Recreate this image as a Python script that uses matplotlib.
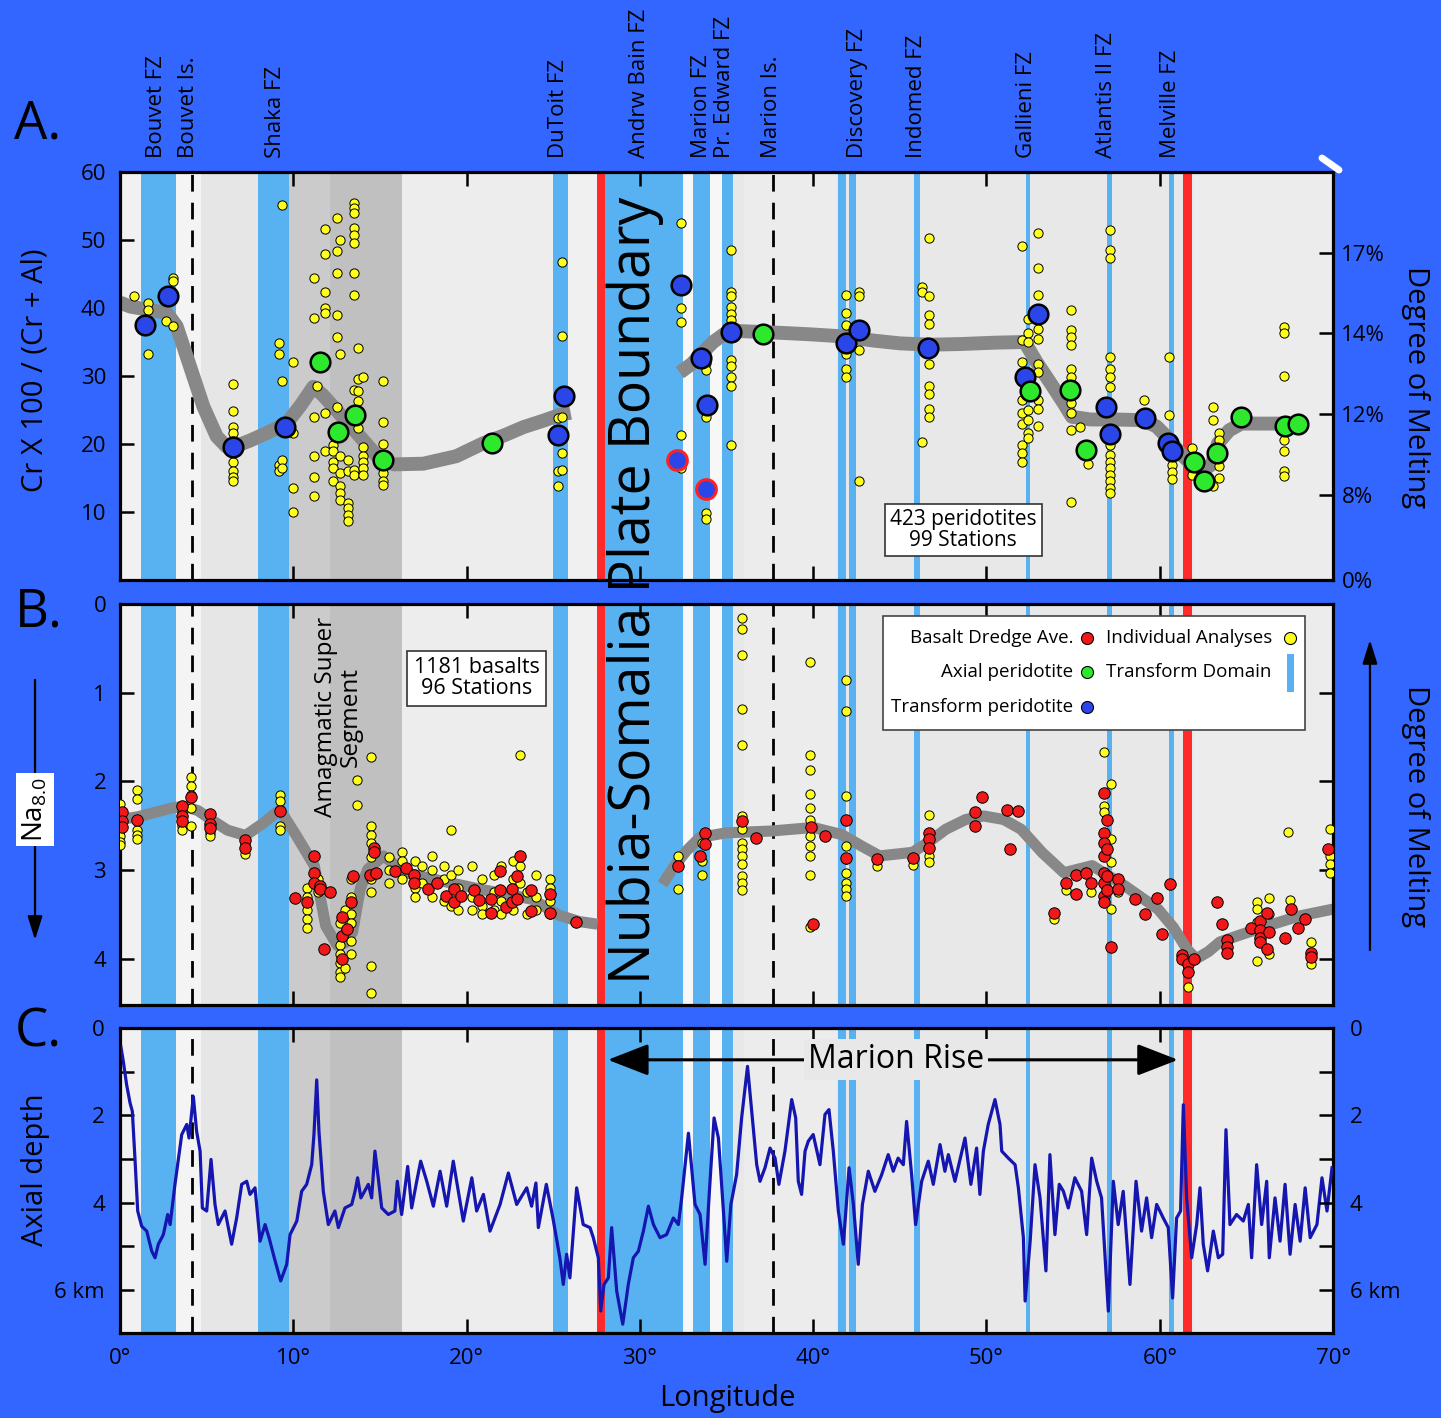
import numpy as np
import matplotlib
matplotlib.use("Agg")
import matplotlib.pyplot as plt
from matplotlib.lines import Line2D
from matplotlib.patches import Rectangle

plt.rcParams['font.family'] = ['Open Sans', 'DejaVu Sans']
plt.rcParams['mathtext.fontset'] = 'custom'
plt.rcParams['mathtext.rm'] = 'Open Sans'

# ---------------- data ----------------
fz_names = ['Bouvet FZ', 'Bouvet Is.', 'Shaka FZ', 'DuToit FZ', 'Andrw Bain FZ', 'Marion FZ',
            'Pr. Edward FZ', 'Marion Is.', 'Discovery FZ', 'Indomed FZ', 'Gallieni FZ',
            'Atlantis II FZ', 'Melville FZ']
fz_lon = [2.08, 3.93, 8.98, 25.33, 30.0, 33.53, 34.89, 37.62, 42.57, 45.96, 52.33, 56.95, 60.59]

transform_zones = [(1.21, 3.23), (7.98, 9.75), (25.0, 25.87), (28.0, 32.5), (33.05, 34.05),
                   (34.72, 35.39), (41.45, 41.87), (42.08, 42.45), (45.83, 46.16),
                   (52.28, 52.51), (56.93, 57.22), (60.53, 60.82)]
plate_boundaries = [(27.5, 27.99), (61.32, 61.84)]
islands = [4.13, 37.66]
amagmatic = [(9.75, 12.1), (12.1, 16.25)]

# Panel A: Cr# trend (two segments)
a_trend1_lon = [0.0, 0.6, 1.5, 2.7, 3.27, 4.04, 4.81, 5.58, 6.15, 6.6, 7.5, 8.46, 9.6, 10.4, 11.15,
                11.7, 12.3, 13.5, 14.84, 15.8, 17.5, 19.4, 20.96, 22.2, 23.3, 24.4, 25.4, 26.0]
a_trend1_val = [40.8, 40.2, 39.8, 39.3, 37.3, 31.4, 25.5, 21.1, 19.6, 19.6, 20.5, 21.6, 23.0, 25.6, 28.4,
                27.2, 25.5, 22.1, 18.2, 17.0, 17.1, 18.2, 20.1, 21.3, 22.5, 23.4, 24.3, 24.6]
a_trend2_lon = [32.3, 33.0, 33.6, 34.23, 34.88, 35.8, 36.75, 38.5, 40.0, 41.86, 43.5, 45.0, 46.76, 48.5,
                50.5, 52.2, 52.9, 53.84, 54.5, 54.93, 56.0, 57.5, 59.0, 59.8, 60.5, 61.2, 61.9, 62.55,
                63.0, 63.36, 64.0, 64.7, 66.0, 68.0]
a_trend2_val = [30.5, 31.8, 33.4, 35.0, 36.2, 36.6, 36.5, 36.3, 36.1, 35.8, 35.2, 34.8, 34.6, 34.7,
                34.9, 35.0, 32.0, 28.4, 25.8, 24.0, 23.6, 23.6, 23.5, 22.6, 20.8, 18.6, 16.8, 16.2,
                17.0, 20.1, 22.0, 23.0, 23.0, 23.0]

a_individual = [
    (0.83, [41.8]), (1.63, [40.7, 39.7, 33.3]), (2.63, [38.1]), (3.04, [44.4, 43.9, 37.4]),
    (6.54, [28.8, 24.9, 22.5, 21.6, 20.5, 19.0, 17.4, 16.0, 15.2, 14.5]),
    (9.2, [34.8, 33.2, 16.9, 16.0]), (9.37, [55.1, 29.2, 17.6, 16.5]), (9.97, [32.1, 21.6, 13.5, 10.0]),
    (11.19, [44.4, 38.6, 24.0, 18.3, 15.1, 12.4]), (11.39, [28.6]),
    (11.83, [51.6, 47.9, 42.4, 40.0, 39.2, 24.6, 19.0]), (12.31, [19.9, 18.9, 17.4, 16.5, 14.5]),
    (12.5, [53.3, 48.4, 45.1, 39.0, 35.8, 25.5]), (12.7, [50.0, 33.3, 18.2, 15.7, 13.8, 12.8, 11.8]),
    (13.17, [17.6, 16.0, 11.3, 10.6, 9.6, 8.6]),
    (13.5, [55.5, 54.7, 53.9, 51.7, 50.7, 49.5, 45.1, 41.9, 28.0, 16.2, 15.5]),
    (13.75, [34.1, 29.5, 27.8, 26.3, 22.4]), (14.04, [29.9, 19.5, 18.3, 17.4, 16.5, 15.5]),
    (15.2, [29.2, 23.3, 20.0, 16.7, 15.7, 14.6, 13.9]), (25.29, [23.8, 16.0, 13.8]),
    (25.48, [46.8, 35.9, 24.0, 18.6, 16.2]),
    (32.38, [52.5, 40.0, 37.9, 21.3, 16.5]), (33.83, [31.9, 30.9, 24.0, 9.9, 9.0]),
    (35.27, [48.6, 42.4, 41.7, 40.2, 39.1, 38.2, 32.3, 31.4, 29.9, 28.5, 19.9]),
    (41.91, [41.9, 39.2, 37.5, 34.3, 33.3, 31.1, 29.9]), (42.62, [42.4, 41.7, 33.8, 14.5]),
    (46.27, [43.1, 42.4, 20.3]), (46.68, [50.3, 41.8, 39.0, 37.7, 31.8, 28.5, 27.4, 25.2, 24.0]),
    (52.07, [49.1, 35.3, 32.1, 26.5, 24.5, 23.0, 19.9, 18.6, 17.4]),
    (52.4, [38.4, 36.3, 35.0, 25.0, 23.5, 21.6, 20.9]),
    (52.97, [51.0, 45.9, 41.9, 36.9, 35.4, 31.8, 30.6, 26.5, 25.2, 22.7]),
    (54.85, [39.7, 36.8, 35.8, 34.6, 31.1, 29.9, 27.2, 26.0, 24.5, 22.0, 11.5]),
    (55.42, [22.5]), (55.83, [17.0]),
    (57.11, [51.4, 48.6, 47.3, 32.8, 31.1, 29.9, 28.4, 19.9, 18.4, 17.4, 16.5, 15.5, 14.5, 13.5, 12.8]),
    (59.09, [26.5]), (60.51, [32.8, 24.3]), (60.73, [16.9, 15.9, 14.9]), (61.88, [19.4, 15.5]),
    (63.1, [25.5, 23.5, 13.8]), (63.43, [21.6, 20.6, 16.7, 15.0]),
    (67.18, [37.2, 36.3, 30.0, 20.6, 19.0, 16.0, 15.3]),
]

transform_perid_lon = [1.44, 2.79, 6.54, 9.52, 25.3, 25.6, 32.38, 33.5, 33.88, 35.26, 41.9, 42.67,
                       46.62, 52.2, 52.97, 56.9, 57.1, 59.15, 60.5, 60.72]
transform_perid_val = [37.5, 41.7, 19.6, 22.5, 21.3, 27.1, 43.4, 32.7, 25.7, 36.4, 34.9, 36.8,
                       34.1, 29.8, 39.1, 25.4, 21.5, 23.8, 20.1, 19.0]
flagged_perid_lon = [32.13, 33.83]
flagged_perid_val = [17.6, 13.4]
axial_perid_lon = [11.54, 12.6, 13.56, 15.2, 21.45, 37.09, 52.53, 54.8, 55.74, 61.95, 62.55, 63.3,
                   64.67, 67.2, 68.0]
axial_perid_val = [32.0, 21.8, 24.3, 17.7, 20.2, 36.2, 27.8, 27.9, 19.1, 17.3, 14.6, 18.6, 23.9,
                   22.6, 22.9]
right_ticks_a = [0, 12.5, 24.4, 36.3, 48.1]
right_labels_a = ['0%', '8%', '12%', '14%', '17%']

# Panel B: Na8.0
b_trend1_lon = [0.0, 1.0, 2.0, 3.0, 3.7, 4.5, 5.25, 6.2, 7.24, 8.2, 9.23, 10.2, 11.21, 11.87, 12.54,
                13.0, 13.42, 13.86, 14.3, 15.19, 16.5, 18.5, 20.9, 22.5, 23.8, 25.35, 26.5, 27.55]
b_trend1_val = [2.43, 2.40, 2.35, 2.30, 2.28, 2.33, 2.43, 2.55, 2.61, 2.48, 2.32, 2.62, 2.95, 3.63,
                3.85, 3.82, 3.70, 3.21, 2.99, 2.84, 3.03, 3.12, 3.22, 3.28, 3.33, 3.51, 3.58, 3.61]
b_trend2_lon = [31.3, 32.0, 32.7, 33.47, 35.0, 37.56, 40.0, 41.65, 42.8, 43.83, 45.73, 46.7, 47.65,
                48.8, 49.83, 51.0, 52.0, 53.2, 54.47, 56.1, 58.0, 59.9, 60.8, 61.56, 62.1, 62.8,
                63.47, 64.8, 66.2, 68.0, 70.0]
b_trend2_val = [3.16, 2.95, 2.78, 2.63, 2.58, 2.56, 2.52, 2.60, 2.73, 2.84, 2.80, 2.68, 2.54, 2.43,
                2.39, 2.43, 2.54, 2.80, 3.03, 2.95, 3.18, 3.44, 3.65, 3.89, 4.00, 3.92, 3.81, 3.72,
                3.63, 3.52, 3.44]

b_individual = [
    (0.0, [2.25, 2.35, 2.55, 2.62, 2.68, 2.72]), (0.97, [2.1, 2.2, 2.55, 2.6, 2.65]),
    (3.6, [2.35, 2.5, 2.55]), (4.1, [1.95, 2.05, 2.15, 2.3, 2.5]), (5.2, [2.58, 2.62]),
    (7.24, [2.72, 2.82]), (9.23, [2.15, 2.22, 2.5, 2.55]), (10.8, [3.2, 3.3, 3.45, 3.55, 3.65]),
    (11.4, [3.1, 3.25]), (12.7, [3.6, 3.85, 3.95, 4.05, 4.15, 4.2]), (13.0, [3.45, 3.7, 4.1]),
    (13.3, [3.1, 3.3, 3.5, 3.6, 3.8, 3.95]), (13.69, [1.99, 2.27]),
    (14.5, [1.72, 2.5, 2.61, 2.69, 2.85, 3.1, 3.25, 4.08, 4.38]), (15.5, [2.85, 3.0, 3.15]),
    (16.3, [2.8, 2.9, 3.1]), (17.0, [2.9, 3.2, 3.3]), (17.4, [2.95, 3.15]), (18.0, [2.84, 3.0, 3.3]),
    (18.7, [2.95, 3.1, 3.35]), (19.1, [2.55, 3.05, 3.4]), (19.5, [3.0, 3.2, 3.45]),
    (20.3, [2.95, 3.3, 3.45]), (20.9, [3.1, 3.4, 3.5]), (21.6, [3.05, 3.25, 3.45]),
    (22.0, [2.95, 3.35, 3.5]), (22.7, [2.9, 3.1, 3.45]), (23.1, [1.70, 2.95, 3.15]),
    (23.5, [3.25, 3.5]), (24.0, [3.05, 3.3, 3.45]), (24.8, [3.1, 3.2, 3.35, 3.5]),
    (32.2, [2.84, 3.21]), (33.6, [2.7, 2.9, 3.05]),
    (35.87, [0.16, 0.28, 0.58, 1.18, 1.59, 2.39, 2.54, 2.69, 2.76, 2.84, 2.93, 3.07, 3.14, 3.23]),
    (39.82, [0.65, 1.70, 1.87, 2.14, 2.30, 2.43, 2.62, 2.73, 2.84, 3.05, 3.64]),
    (41.92, [0.86, 1.21, 2.17, 2.73, 2.88, 3.03, 3.14, 3.21, 3.29]),
    (43.69, [2.95]), (45.74, [2.94]), (46.69, [2.38, 2.84, 2.91]), (53.87, [3.55]), (54.6, [3.23]),
    (56.05, [3.25]), (56.8, [1.67, 2.28, 2.35]), (57.2, [2.03, 2.65, 2.91, 3.44]), (57.6, [3.25]),
    (61.6, [4.32]), (65.6, [3.36, 3.44, 3.59, 4.03]), (66.33, [3.31, 3.5, 3.95]), (67.4, [2.57]),
    (67.5, [3.34]), (68.73, [3.81, 4.06]), (69.8, [2.54, 2.84, 2.93, 3.03]),
]

b_dredge = [
    (0.1, [2.35, 2.45, 2.52]), (0.97, [2.43]), (3.6, [2.28, 2.39, 2.45]), (4.1, [2.18]),
    (5.21, [2.37, 2.48, 2.53]), (7.24, [2.66, 2.75]), (9.23, [2.33]), (10.1, [3.31]), (10.8, [3.36]),
    (11.21, [2.84, 3.03, 3.14]), (11.54, [3.18, 3.21]), (11.76, [3.89]), (12.1, [3.25]),
    (12.8, [3.53, 3.74, 4.0]), (13.09, [3.66]), (13.3, [3.36]), (13.42, [3.07]), (14.41, [3.05]),
    (14.64, [2.75, 2.80]), (14.75, [3.03]), (15.85, [3.01]), (16.5, [2.98]), (16.95, [3.06, 3.14]),
    (17.8, [3.21]), (18.3, [3.14]), (18.8, [3.29]), (19.3, [3.21, 3.36]), (19.7, [3.29]),
    (20.4, [3.23]), (20.7, [3.34]), (21.4, [3.33, 3.48]), (21.9, [3.01, 3.23]), (22.25, [3.42]),
    (22.6, [3.21, 3.36]), (22.9, [3.07, 3.33]), (23.1, [2.84]), (23.7, [3.23, 3.46]),
    (24.8, [3.27, 3.48]), (26.3, [3.58]), (32.2, [2.95]), (33.47, [2.84]), (33.74, [2.58, 2.71]),
    (35.87, [2.45]), (36.7, [2.64]), (39.88, [2.52]), (39.96, [3.61]), (40.69, [2.62]),
    (41.92, [2.43, 2.86]), (43.69, [2.87]), (45.74, [2.86]), (46.69, [2.58, 2.65, 2.75]),
    (49.33, [2.35, 2.50]), (49.75, [2.18]), (51.2, [2.32]), (51.38, [2.76]), (51.82, [2.33]),
    (53.87, [3.48]), (54.6, [3.15]), (55.15, [3.05, 3.27]), (55.77, [3.03]), (56.05, [3.15]),
    (56.8, [2.13, 2.58, 2.69, 2.84, 3.03, 3.14, 3.29, 3.36]), (56.97, [2.43, 2.76, 3.07, 3.23]),
    (57.2, [3.87]), (57.6, [3.10, 3.21]), (58.56, [3.33]), (59.15, [3.50]), (59.86, [3.31]),
    (60.13, [3.72]), (60.6, [3.16]), (61.27, [3.96, 4.0]), (61.6, [4.06, 4.15]), (61.96, [4.0]),
    (63.33, [3.36]), (63.6, [3.61]), (63.87, [3.79, 3.87, 3.94]), (65.24, [3.65]),
    (65.78, [3.57, 3.67, 3.76, 3.81]), (66.2, [3.48, 3.89]), (66.33, [3.70]), (67.23, [3.76]),
    (67.56, [3.44]), (67.97, [3.65]), (68.4, [3.55]), (68.73, [3.93, 3.98]), (69.7, [2.76]),
]

# Panel C: axial depth (km)
c_lon = [0.05, 0.19, 0.38, 0.58, 0.71, 0.86, 1.02, 1.25, 1.54, 1.83, 2.02, 2.21, 2.5, 2.75, 2.89,
         3.17, 3.56, 3.85, 3.98, 4.23, 4.42, 4.62, 4.75, 5.0, 5.25, 5.48, 5.67, 6.06, 6.44, 6.73,
         7.02, 7.31, 7.5, 7.79, 8.08, 8.37, 8.6, 8.9, 9.27, 9.62, 9.81, 10.2, 10.48, 10.77, 11.06,
         11.19, 11.35, 11.48, 11.73, 12.02, 12.4, 12.6, 12.98, 13.37, 13.56, 13.71, 13.9, 14.33,
         14.52, 14.71, 14.9, 15.1, 15.48, 15.86, 16.0, 16.25, 16.6, 16.83, 17.12, 17.35, 17.7,
         18.08, 18.47, 18.85, 19.23, 19.81, 20.3, 20.58, 20.97, 21.35, 21.93, 22.41, 22.89, 23.47,
         23.75, 24.0, 24.14, 24.6, 24.98, 25.38, 25.58, 25.77, 25.96, 26.35, 26.73, 27.12, 27.31,
         27.6, 27.74, 27.93, 28.18, 28.37, 28.66, 29.01, 29.33, 29.62, 29.91, 30.2, 30.49, 30.78,
         31.16, 31.54, 31.93, 32.22, 32.41, 32.8, 33.18, 33.47, 33.76, 34.01, 34.28, 34.53, 34.82,
         35.01, 35.25, 35.58, 35.87, 36.21, 36.45, 36.74, 36.93, 37.22, 37.51, 37.8, 38.02, 38.37,
         38.76, 38.99, 39.14, 39.33, 39.53, 39.72, 40.0, 40.39, 40.68, 40.91, 41.16, 41.45, 41.74,
         42.07, 42.32, 42.6, 42.84, 43.18, 43.56, 43.95, 44.33, 44.62, 44.9, 45.2, 45.39, 45.68,
         45.91, 46.26, 46.64, 46.93, 47.32, 47.6, 47.8, 48.18, 48.76, 49.1, 49.43, 49.62, 49.82,
         50.1, 50.49, 50.78, 50.88, 51.26, 51.65, 51.84, 52.13, 52.23, 52.52, 52.8, 53.09, 53.43,
         53.66, 53.95, 54.2, 54.44, 54.72, 55.1, 55.49, 55.78, 56.07, 56.36, 56.64, 57.03, 57.32,
         57.6, 57.89, 58.28, 58.63, 58.95, 59.24, 59.53, 59.82, 60.2, 60.49, 60.74, 60.97, 61.2,
         61.36, 61.55, 61.84, 62.13, 62.32, 62.51, 62.76, 63.09, 63.38, 63.63, 63.82, 64.05, 64.43,
         64.82, 65.11, 65.3, 65.59, 65.88, 66.17, 66.32, 66.65, 66.94, 67.23, 67.52, 67.81, 68.1,
         68.39, 68.68, 69.07, 69.36, 69.65, 69.94]
c_depth = [0.43, 0.77, 1.30, 1.72, 1.91, 2.98, 4.19, 4.54, 4.65, 5.11, 5.26, 4.95, 4.73, 4.27, 4.50,
           3.58, 2.44, 2.21, 2.52, 1.57, 2.37, 2.82, 4.12, 4.19, 3.01, 4.04, 4.50, 4.19, 4.95, 4.35,
           3.58, 3.51, 3.81, 3.66, 4.88, 4.50, 4.80, 5.26, 5.79, 5.41, 4.73, 4.42, 3.74, 3.58, 3.13,
           2.44, 1.19, 2.37, 3.74, 4.50, 4.19, 4.57, 4.12, 4.04, 3.74, 3.43, 3.89, 3.58,
           3.89, 2.82, 3.43, 4.12, 4.27, 4.19, 3.51, 4.27, 3.17, 4.12, 3.51, 3.05, 3.51,
           4.08, 3.28, 4.08, 3.05, 4.42, 3.43, 4.19, 3.81, 4.65, 4.04, 3.32, 4.04, 3.66,
           4.08, 3.55, 4.57, 3.58, 4.35, 5.26, 5.87, 5.18, 5.72, 3.66, 4.50, 4.57, 4.80,
           5.26, 6.48, 5.87, 5.72, 4.57, 6.02, 6.78, 5.87, 5.26, 5.11, 4.65, 4.08, 4.50,
           4.80, 4.73, 4.35, 4.50, 3.89, 2.41, 4.04, 4.27, 5.41, 3.74, 2.06, 2.52, 4.19,
           5.34, 4.04, 3.36, 2.06, 0.88, 1.91, 3.13, 3.51, 3.20, 2.75, 2.98, 3.58, 2.82,
           1.64, 2.06, 3.51, 3.81, 2.82, 2.59, 2.44, 3.13, 1.98, 1.87, 2.82, 4.19, 4.95,
           3.20, 4.04, 5.41, 4.04, 3.28, 3.74, 3.36, 2.90, 3.28, 2.98, 3.13, 2.14, 3.36,
           4.50, 3.51, 3.05, 3.58, 2.67, 3.28, 2.90, 3.51, 2.52, 3.58, 2.75, 3.81, 2.82,
           2.21, 1.64, 2.21, 2.82, 2.98, 3.13, 3.66, 4.80, 6.25, 4.88, 3.13, 3.89, 5.56,
           2.90, 4.73, 3.58, 3.74, 4.12, 3.43, 3.74, 4.73, 2.98, 3.51, 3.89, 6.48, 3.51,
           4.50, 3.74, 5.87, 3.51, 4.65, 3.89, 4.80, 4.04, 4.35, 4.57, 6.18, 4.35, 4.19,
           1.76, 3.89, 5.26, 4.50, 3.66, 4.95, 5.56, 4.65, 5.26, 5.18, 2.33, 4.50, 4.27,
           4.42, 4.04, 5.26, 3.13, 4.50, 3.51, 5.26, 3.89, 4.88, 3.58, 5.18, 4.04, 4.88,
           3.66, 4.80, 4.50, 3.43, 4.19, 3.20]

# ---------------- style ----------------
BG = '#3366FF'
PANEL = '#E8E8E8'
STRIPE = '#58B2F2'
RED = '#FF2A2A'
YELLOW = '#FFFF1E'
bands = [(0.0, 1.21, '#F1F1F1'), (3.23, 4.7, '#F4F4F4'), (4.7, 7.98, '#E6E6E6'),
         (16.25, 25.0, '#EDEDED'), (25.87, 27.5, '#F0F0F0'), (32.5, 33.05, '#F7F7F7'),
         (34.05, 34.72, '#F7F7F7'), (36.0, 41.4, '#ECECEC'), (62.0, 70.0, '#ECECEC')]
gray_cols = ['#CBCBCB', '#C0C0C0']


def base_panel(ax):
    ax.set_facecolor(PANEL)
    ax.set_xlim(0, 70)
    for a, b, c in bands:
        ax.axvspan(a, b, color=c, lw=0, zorder=0.2)
    for (a, b), c in zip(amagmatic, gray_cols):
        ax.axvspan(a, b, color=c, lw=0, zorder=0.3)
    for a, b in transform_zones:
        ax.axvspan(a, b, color=STRIPE, lw=0, zorder=0.5)
    for a, b in plate_boundaries:
        ax.axvspan(a, b, color=RED, lw=0, zorder=0.6)
    for x in islands:
        ax.axvline(x, color='black', lw=2.0, dashes=(6, 4), zorder=0.8)
    for s in ax.spines.values():
        s.set_linewidth(2.3)
    ax.set_xticks(np.arange(0, 71, 10))
    ax.tick_params(direction='in', length=10, width=1.8, top=True, bottom=True,
                   labelsize=16, pad=10)


def flatten(groups):
    xs, ys = [], []
    for lon, vals in groups:
        xs += [lon] * len(vals)
        ys += vals
    return xs, ys


fig = plt.figure(figsize=(14.41, 14.18), dpi=100, facecolor=BG)
axA = fig.add_axes([0.0833, 0.5910, 0.8418, 0.2877])
axB = fig.add_axes([0.0833, 0.2913, 0.8418, 0.2828])
axC = fig.add_axes([0.0833, 0.0600, 0.8418, 0.2151])
for ax in (axA, axB, axC):
    base_panel(ax)

# ---- Panel A ----
axA.set_ylim(0, 60)
axA.set_yticks([10, 20, 30, 40, 50, 60])
axA.tick_params(labelbottom=False, right=False)
for lon, val in [(a_trend1_lon, a_trend1_val), (a_trend2_lon, a_trend2_val)]:
    axA.plot(lon, val, color='#888888', lw=10, solid_joinstyle='round', solid_capstyle='butt', zorder=2)
xs, ys = flatten(a_individual)
axA.scatter(xs, ys, s=44, c=YELLOW, edgecolors='black', linewidths=0.7, zorder=3)
axA.scatter(transform_perid_lon, transform_perid_val, s=200, c='#2A45E8', edgecolors='black',
            linewidths=1.8, zorder=4)
axA.scatter(flagged_perid_lon, flagged_perid_val, s=200, c='#2A45E8', edgecolors='#FF2020',
            linewidths=2.2, zorder=4)
axA.scatter(axial_perid_lon, axial_perid_val, s=200, c='#2EE82E', edgecolors='black',
            linewidths=1.8, zorder=4)
axA2 = axA.twinx()
axA2.set_ylim(0, 60)
axA2.set_yticks(right_ticks_a)
axA2.set_yticklabels(right_labels_a)
axA2.tick_params(direction='in', length=10, width=1.8, labelsize=16, pad=6)
axA.text(0.695, 0.123, '423 peridotites\n99 Stations', transform=axA.transAxes, ha='center',
         va='center', fontsize=15, linespacing=1.0, zorder=6,
         bbox=dict(boxstyle='square,pad=0.25', facecolor='white', edgecolor='#333333', lw=1.2))
for name, lon in zip(fz_names, fz_lon):
    axA.text(lon, 1.034, name, transform=axA.get_xaxis_transform(), rotation=90, ha='center',
             va='bottom', fontsize=16)

# ---- Panel B ----
axB.set_ylim(4.52, 0)
axB.set_yticks([0, 1, 2, 3, 4])
axB.tick_params(labelbottom=False, right=True)
for lon, val in [(b_trend1_lon, b_trend1_val), (b_trend2_lon, b_trend2_val)]:
    axB.plot(lon, val, color='#888888', lw=8, solid_joinstyle='round', solid_capstyle='butt', zorder=2)
xs, ys = flatten(b_individual)
axB.scatter(xs, ys, s=44, c=YELLOW, edgecolors='black', linewidths=0.7, zorder=3)
xs, ys = flatten(b_dredge)
axB.scatter(xs, ys, s=68, c='#F01818', edgecolors='black', linewidths=0.7, zorder=3.5)
axB.text(0.294, 0.815, '1181 basalts\n96 Stations', transform=axB.transAxes, ha='center',
         va='center', fontsize=15.5, linespacing=1.0, zorder=6,
         bbox=dict(boxstyle='square,pad=0.3', facecolor='white', edgecolor='#333333', lw=1.2))
axB.text(12.58, 0.718, 'Amagmatic Super\nSegment', transform=axB.get_xaxis_transform(),
         rotation=90, ha='center', va='center', fontsize=17.5, linespacing=1.05, zorder=6)

# legend (manual)
tA = axB.transAxes
axB.add_patch(Rectangle((0.629, 0.686), 0.348, 0.284, transform=tA, facecolor='white',
                        edgecolor='#444444', lw=1.2, zorder=6))
leg_y = [0.915, 0.830, 0.743]
for label, col, y in [('Basalt Dredge Ave.', '#F01818', leg_y[0]),
                      ('Axial peridotite', '#2EE82E', leg_y[1]),
                      ('Transform peridotite', '#2A45E8', leg_y[2])]:
    axB.text(0.786, y, label, transform=tA, ha='right', va='center', fontsize=13.5, zorder=7)
    axB.scatter([0.797], [y], s=75, c=col, edgecolors='black', linewidths=0.8, transform=tA,
                zorder=7, clip_on=False)
axB.text(0.813, leg_y[0], 'Individual Analyses', transform=tA, ha='left', va='center',
         fontsize=13.5, zorder=7)
axB.scatter([0.9646], [leg_y[0]], s=75, c=YELLOW, edgecolors='black', linewidths=0.8,
            transform=tA, zorder=7, clip_on=False)
axB.text(0.813, leg_y[1], 'Transform Domain', transform=tA, ha='left', va='center',
         fontsize=13.5, zorder=7)
axB.add_patch(Rectangle((0.962, 0.78), 0.006, 0.095, transform=tA, facecolor=STRIPE,
                        lw=0, zorder=7))

# ---- Panel C ----
axC.set_ylim(6.98, 0)
c_ticks = [0, 1, 2, 3, 4, 5, 6]
c_labels = ['0', '', '2', '', '4', '', '6 km']
axC.set_yticks(c_ticks)
axC.set_yticklabels(c_labels)
axC.set_xticklabels([f'{v}°' for v in range(0, 71, 10)])
axC.tick_params(right=False, pad=11)
axC.plot(c_lon, c_depth, color='#1515B0', lw=2.3, zorder=3)
axC2 = axC.twinx()
axC2.set_ylim(6.98, 0)
axC2.set_yticks(c_ticks)
axC2.set_yticklabels(c_labels)
axC2.tick_params(direction='in', length=10, width=1.8, labelsize=16, pad=12)
axC.annotate('', xy=(28.15, 0.73), xytext=(61.05, 0.73),
             arrowprops=dict(arrowstyle='<|-|>,head_length=0.9,head_width=0.35', color='black',
                             lw=2.2, mutation_scale=28, shrinkA=0, shrinkB=0), zorder=5)
axC.text(44.8, 0.73, 'Marion Rise', ha='center', va='center', fontsize=23, zorder=6,
         bbox=dict(boxstyle='square,pad=0.12', facecolor=PANEL, edgecolor='none'))

# ---- figure-level text ----
fig.text(0.441, 0.584, 'Nubia-Somalia Plate Boundary', rotation=90, ha='center', va='center',
         fontsize=40, zorder=10)
fig.text(0.010, 0.912, 'A.', fontsize=38, va='center', ha='left')
fig.text(0.010, 0.568, 'B.', fontsize=38, va='center', ha='left')
fig.text(0.010, 0.272, 'C.', fontsize=38, va='center', ha='left')
fig.text(0.0243, 0.739, 'Cr X 100 / (Cr + Al)', rotation=90, ha='center', va='center', fontsize=21)
fig.text(0.982, 0.727, 'Degree of Melting', rotation=-90, ha='center', va='center', fontsize=21)
fig.text(0.982, 0.4316, 'Degree of Melting', rotation=-90, ha='center', va='center', fontsize=21)
fig.text(0.0243, 0.175, 'Axial depth', rotation=90, ha='center', va='center', fontsize=21)
fig.text(0.5045, 0.0141, 'Longitude', ha='center', va='center', fontsize=21)

axB.annotate('', xy=(0.0243, 0.3371), xytext=(0.0243, 0.5205), xycoords='figure fraction',
             textcoords='figure fraction',
             arrowprops=dict(arrowstyle='-|>,head_length=0.8,head_width=0.25', color='black',
                             lw=1.6, mutation_scale=18, shrinkA=0, shrinkB=0))
fig.text(0.0243, 0.429, r'Na$_{8.0}$', rotation=90, ha='center', va='center', fontsize=20,
         zorder=5, bbox=dict(boxstyle='square,pad=0.15', facecolor='white', edgecolor='none'))
axB.annotate('', xy=(0.9507, 0.5487), xytext=(0.9507, 0.330), xycoords='figure fraction',
             textcoords='figure fraction',
             arrowprops=dict(arrowstyle='-|>,head_length=0.8,head_width=0.25', color='black',
                             lw=1.6, mutation_scale=18, shrinkA=0, shrinkB=0))
fig.add_artist(Line2D([1322 / 1441, 1339 / 1441], [1 - 158 / 1418, 1 - 170 / 1418], color='white',
                      lw=5, solid_capstyle='round'))

fig.savefig('out.png', dpi=100, facecolor=BG)
